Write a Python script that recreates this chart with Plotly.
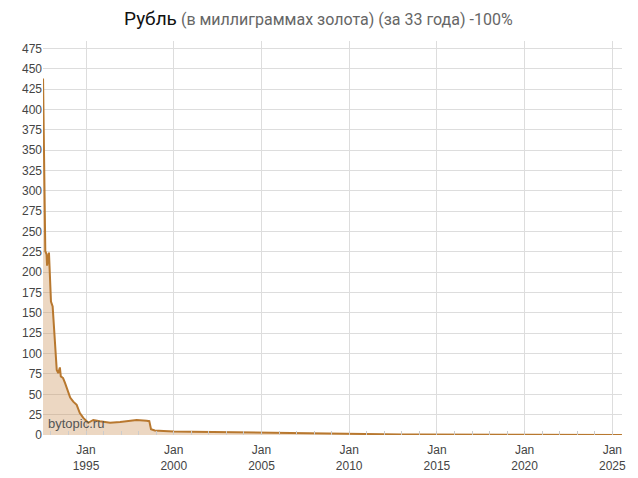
import plotly.graph_objects as go

dates = [
    "1992-07-20", "1992-09-05", "1992-10-01", "1992-10-12", "1992-11-20",
    "1993-01-01", "1993-02-05", "1993-04-01", "1993-05-01", "1993-06-01",
    "1993-07-05", "1993-07-25", "1993-09-10", "1993-10-20", "1994-01-01",
    "1994-02-05", "1994-04-10", "1994-06-20", "1994-08-25", "1994-11-05",
    "1995-02-15", "1995-06-01", "1995-10-15", "1996-05-15", "1996-12-10",
    "1997-07-05", "1997-11-20", "1998-06-15", "1998-08-10", "1998-09-15",
    "1998-12-01", "1999-06-01", "2000-01-01", "2001-01-01", "2002-01-01",
    "2003-01-01", "2004-01-01", "2005-01-01", "2006-01-01", "2007-01-01",
    "2008-01-01", "2009-01-01", "2010-01-01", "2011-01-01", "2012-01-01",
    "2013-01-01", "2014-01-01", "2015-01-01", "2016-01-01", "2017-01-01",
    "2018-01-01", "2019-01-01", "2020-01-01", "2021-01-01", "2022-01-01",
    "2023-01-01", "2024-01-01", "2025-01-01", "2025-07-20",
]
values_mg = [
    438, 226, 222, 208, 224,
    164, 158, 104, 80, 76,
    83, 72, 70, 64, 51,
    46, 41, 37, 27, 21,
    15, 18.5, 17, 15, 16,
    17, 18.5, 17.5, 17, 7,
    5.5, 4.8, 4.2, 4.1, 3.8,
    3.3, 3.0, 2.9, 2.5, 2.0,
    1.5, 1.2, 1.0, 0.75, 0.65,
    0.6, 0.7, 0.45, 0.3, 0.35,
    0.35, 0.3, 0.3, 0.25, 0.2,
    0.22, 0.16, 0.13, 0.1,
]

x_tick_years = [1995, 2000, 2005, 2010, 2015, 2020, 2025]
x_tick_vals = [f"{y}-01-01" for y in x_tick_years]
x_tick_text = [f"Jan<br>{y}" for y in x_tick_years]
y_tick_vals = list(range(0, 476, 25))

title_main = "Рубль"
title_sub = "(в миллиграммах золота) (за 33 года) -100%"
watermark = "bytopic.ru"

line_color = "#b8782f"
fill_color = "rgba(200,140,80,0.35)"
tick_font = dict(family="Liberation Sans, Arial, sans-serif", size=12, color="#444")

fig = go.Figure()
fig.add_trace(go.Scatter(
    x=dates, y=values_mg, mode="lines",
    line=dict(color=line_color, width=2),
    fill="tozeroy", fillcolor=fill_color,
    hoverinfo="x+y", showlegend=False,
))

# page body has an 8px default margin, so the figure is 8px smaller than the window
W, H = 630, 470
ML, MR, MT, MB = 35, 16, 33, 43
plot_w = W - ML - MR
plot_h = H - MT - MB

fig.update_layout(
    width=W, height=H,
    margin=dict(l=ML, r=MR, t=MT, b=MB),
    paper_bgcolor="white", plot_bgcolor="white",
    xaxis=dict(
        type="date",
        range=["1992-07-19", "2025-07-21"],
        tickvals=x_tick_vals, ticktext=x_tick_text,
        showgrid=True, gridcolor="#dddddd", gridwidth=1,
        ticks="", zeroline=False, showline=False, automargin=False,
        tickfont=tick_font, ticklabelstandoff=6,
        minor=dict(dtick="M12", tick0="1993-01-01", ticks="inside", ticklen=4,
                   tickcolor="#cccccc", showgrid=False),
    ),
    yaxis=dict(
        range=[0, 484],
        tickvals=y_tick_vals,
        showgrid=True, gridcolor="#dddddd", gridwidth=1,
        ticks="", zeroline=False, showline=False, automargin=False,
        tickfont=tick_font,
    ),
    annotations=[
        dict(
            text=f"<span style='font-size:19px;color:#111'>{title_main}</span> "
                 f"<span style='font-size:16px;color:#666'>{title_sub}</span>",
            xref="paper", yref="paper",
            x=(318 - 8 - ML) / plot_w, y=1 + (MT - (18 - 8)) / plot_h,
            xanchor="center", yanchor="middle", showarrow=False,
            font=dict(family="Roboto, Arial, sans-serif", size=16),
        ),
        dict(
            text=watermark, xref="paper", yref="paper", x=0, y=0,
            xanchor="left", yanchor="bottom", xshift=3, yshift=2, showarrow=False,
            font=dict(family="Liberation Sans, Arial, sans-serif", size=13, color="#555"),
        ),
    ],
)

fig.write_html("out.html")
